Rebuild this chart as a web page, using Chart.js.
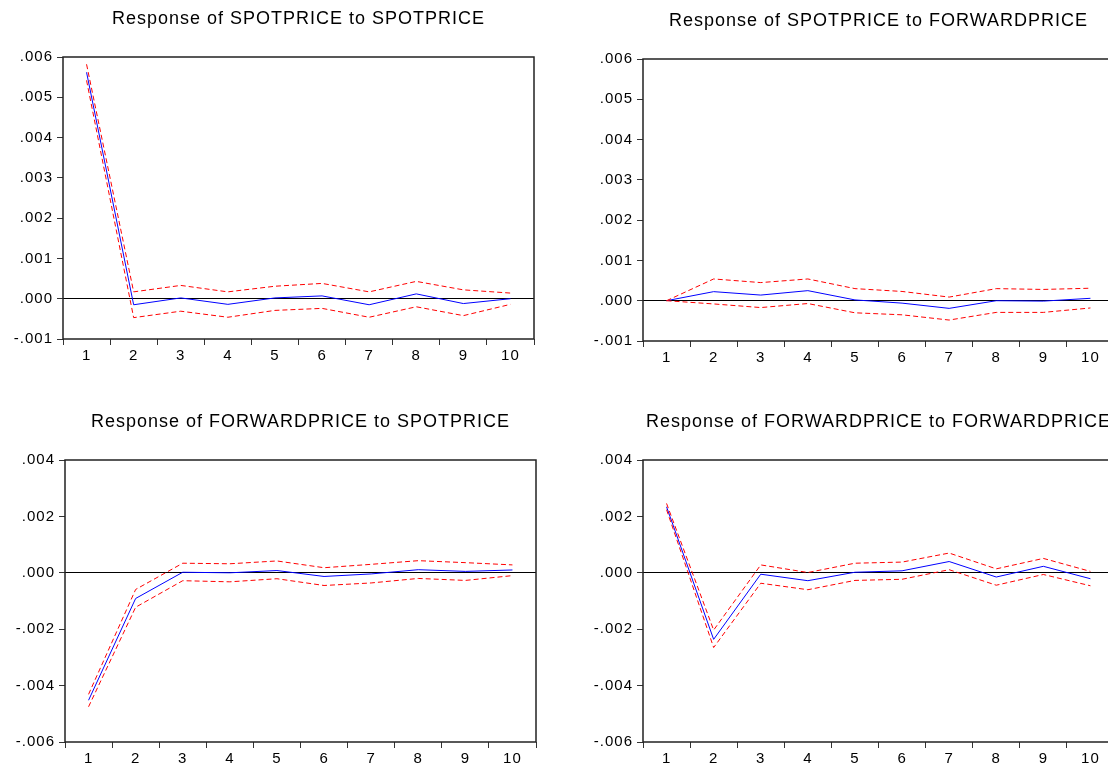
<!DOCTYPE html>
<html>
<head>
<meta charset="utf-8">
<script src="https://cdn.jsdelivr.net/npm/chart.js@4.4.1/dist/chart.umd.min.js"></script>
<style>
    html, body { margin: 0; padding: 0; background: #fff; }
    body { width: 1108px; height: 765px; overflow: hidden; position: relative; }
    canvas { position: absolute; }
</style>
</head>
<body>
<canvas id="c1" width="597" height="369" style="left:0px;top:0px"></canvas>
<canvas id="c2" width="597" height="369" style="left:580px;top:2px"></canvas>
<canvas id="c3" width="597" height="369" style="left:2px;top:403px"></canvas>
<canvas id="c4" width="597" height="369" style="left:580px;top:403px"></canvas>
<script>
const horizons = ['1', '2', '3', '4', '5', '6', '7', '8', '9', '10'];

const spotTicks = [-0.001, 0, 0.001, 0.002, 0.003, 0.004, 0.005, 0.006];
const forwardTicks = [-0.006, -0.004, -0.002, 0, 0.002, 0.004];

// Response of SPOTPRICE to SPOTPRICE
const spotSpot = [0.00562, -0.00015, 0.00002, -0.00014, 0.00002, 0.00007, -0.00015, 0.00012, -0.00012, 0.0];
const spotSpotUp = [0.00582, 0.00017, 0.00033, 0.00017, 0.00031, 0.00038, 0.00017, 0.00043, 0.00022, 0.00014];
const spotSpotLo = [0.00542, -0.00047, -0.00031, -0.00046, -0.00029, -0.00024, -0.00046, -0.00020, -0.00042, -0.00014];

// Response of SPOTPRICE to FORWARDPRICE
const spotFwd = [0.0, 0.000225, 0.00014, 0.00025, 0.00002, -0.00006, -0.00019, 0.0, -0.00001, 0.00006];
const spotFwdUp = [0.0, 0.00054, 0.00045, 0.00054, 0.00030, 0.00023, 0.00009, 0.00030, 0.00028, 0.00031];
const spotFwdLo = [0.0, -0.00008, -0.00017, -0.00007, -0.00030, -0.00035, -0.00048, -0.00029, -0.00029, -0.00018];

// Response of FORWARDPRICE to SPOTPRICE
const fwdSpot = [-0.00452, -0.00091, 0.00002, 0.0, 0.00008, -0.00013, -0.00004, 0.00011, 0.00005, 0.00010];
const fwdSpotUp = [-0.00431, -0.00059, 0.00034, 0.00032, 0.00042, 0.00018, 0.00030, 0.00043, 0.00036, 0.00028];
const fwdSpotLo = [-0.00475, -0.00122, -0.00028, -0.00032, -0.00021, -0.00045, -0.00036, -0.00020, -0.00027, -0.00010];

// Response of FORWARDPRICE to FORWARDPRICE
const fwdFwd = [0.00234, -0.00236, -0.00005, -0.00028, 0.00002, 0.00007, 0.00040, -0.00015, 0.00023, -0.00021];
const fwdFwdUp = [0.00246, -0.00203, 0.00028, 0.00001, 0.00034, 0.00038, 0.00070, 0.00014, 0.00051, 0.00005];
const fwdFwdLo = [0.00224, -0.00265, -0.00037, -0.00060, -0.00027, -0.00023, 0.00011, -0.00044, -0.00006, -0.00046];

const FONT = "'Liberation Sans', Arial, sans-serif";

// eviews style: wide text + box round the plot
const framePlugin = {
    id: 'frame',
    beforeDraw(chart) {
        chart.ctx.letterSpacing = '1px';
    },
    afterDraw(chart) {
        const a = chart.chartArea;
        const ctx = chart.ctx;
        ctx.save();
        ctx.strokeStyle = '#222';
        ctx.lineWidth = 1.5;
        ctx.strokeRect(a.left, a.top, a.right - a.left, a.bottom - a.top);
        ctx.restore();
    }
};

function fmtTick(v) {
    if (Math.abs(v) < 1e-9) return '.000';
    return v.toFixed(3).replace('0.', '.');
}

function CreateIrfChart(elementId, title, resp, upper, lower, ticks) {
    const data = {
        labels: horizons,
        datasets: [{
            data: upper,
            borderColor: '#ff0000',
            borderWidth: 1,
            borderDash: [5, 3],
            pointRadius: 0,
        }, {
            data: lower,
            borderColor: '#ff0000',
            borderWidth: 1,
            borderDash: [5, 3],
            pointRadius: 0,
        }, {
            data: resp,
            borderColor: '#0000ff',
            borderWidth: 1,
            pointRadius: 0,
        }]
    };
    const config = {
        type: 'line',
        data: data,
        plugins: [framePlugin],
        options: {
            responsive: false,
            animation: false,
            elements: { line: { tension: 0 } },
            plugins: {
                legend: { display: false },
                tooltip: { enabled: false },
                title: {
                    display: true,
                    text: title,
                    color: '#000',
                    font: { family: FONT, size: 18, weight: 'normal', lineHeight: 1.2 },
                    padding: { top: 8.2, bottom: 27.2 }
                }
            },
            scales: {
                x: {
                    offset: true,
                    afterFit: s => { s.height = 30; },
                    grid: { offset: true, drawOnChartArea: false, tickLength: 6, tickColor: '#333' },
                    border: { display: false },
                    ticks: { color: '#000', padding: 2, maxRotation: 0, font: { family: FONT, size: 15 } }
                },
                y: {
                    min: ticks[0],
                    max: ticks[ticks.length - 1],
                    afterBuildTicks: s => { s.ticks = ticks.map(v => ({ value: v })); },
                    afterFit: s => { s.width = 63; },
                    grid: {
                        tickLength: 6,
                        tickColor: '#333',
                        color: c => (c.tick && Math.abs(c.tick.value) < 1e-9) ? '#000' : 'rgba(0,0,0,0)'
                    },
                    border: { display: false },
                    ticks: { color: '#000', padding: 4, callback: v => fmtTick(v), font: { family: FONT, size: 15 } }
                },
                // empty right axis so the title sits over the plot centre
                yPad: {
                    type: 'linear',
                    position: 'right',
                    afterFit: s => { s.width = 63; },
                    grid: { display: false },
                    border: { display: false },
                    ticks: { display: false }
                }
            }
        }
    };
    return new Chart(document.getElementById(elementId), config);
}

CreateIrfChart('c1', 'Response of SPOTPRICE to SPOTPRICE', spotSpot, spotSpotUp, spotSpotLo, spotTicks);
CreateIrfChart('c2', 'Response of SPOTPRICE to FORWARDPRICE', spotFwd, spotFwdUp, spotFwdLo, spotTicks);
CreateIrfChart('c3', 'Response of FORWARDPRICE to SPOTPRICE', fwdSpot, fwdSpotUp, fwdSpotLo, forwardTicks);
CreateIrfChart('c4', 'Response of FORWARDPRICE to FORWARDPRICE', fwdFwd, fwdFwdUp, fwdFwdLo, forwardTicks);
</script>
</body>
</html>
